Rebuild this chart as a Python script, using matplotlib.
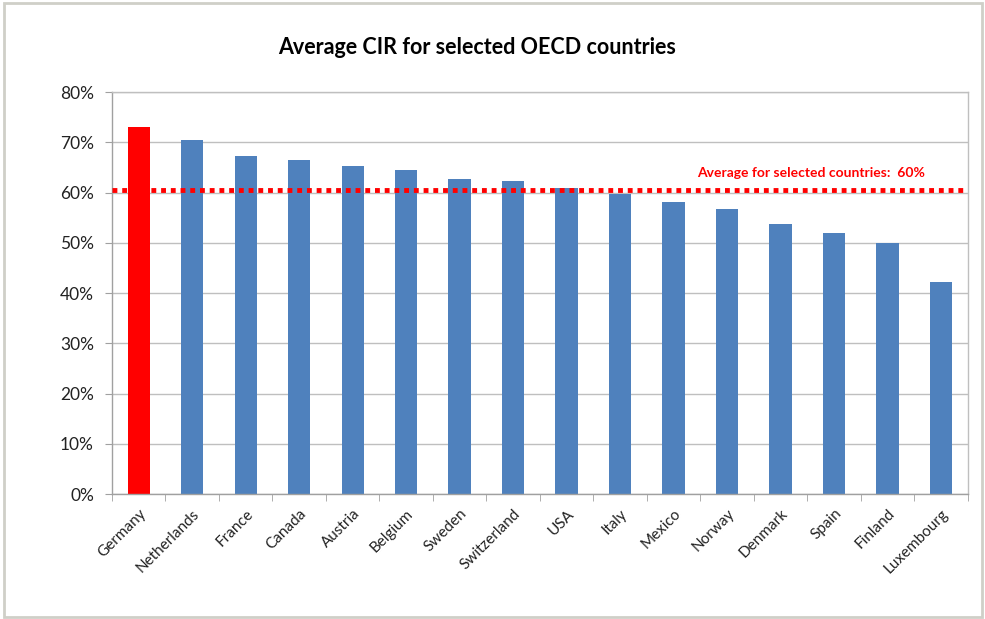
import matplotlib
matplotlib.use('Agg')
import matplotlib.pyplot as plt
from matplotlib.patches import Rectangle
import numpy as np

plt.rcParams['font.family'] = ['Lato', 'DejaVu Sans']

# Average CIR by country (percent)
countries = ['Germany', 'Netherlands', 'France', 'Canada', 'Austria', 'Belgium',
             'Sweden', 'Switzerland', 'USA', 'Italy', 'Mexico', 'Norway',
             'Denmark', 'Spain', 'Finland', 'Luxembourg']
cir = [73.0, 70.5, 67.2, 66.4, 65.2, 64.4, 62.6, 62.3, 60.9, 59.7, 58.2, 56.8,
       53.8, 51.9, 49.9, 42.1]
average = 60.6
avg_label = 'Average for selected countries:  60%'
yticks = [0, 10, 20, 30, 40, 50, 60, 70, 80]

blue = '#4F81BD'
red = '#FF0000'
colors = [red if c == 'Germany' else blue for c in countries]

fig = plt.figure(figsize=(9.85, 6.19), dpi=100)
ax = fig.add_axes([0.1137, 0.2019, 0.8690, 0.6494])

x = np.arange(len(countries))
ax.bar(x, cir, width=0.42, color=colors, zorder=2)

ax.set_xlim(-0.5, len(countries) - 0.5)
ax.set_ylim(0, 80)
ax.set_yticks(yticks)
ax.set_yticklabels([f'{v}%' for v in yticks], fontsize=12.5, color='#222222')
ax.yaxis.grid(True, color='#BFBFBF', linewidth=1, zorder=0)
ax.set_axisbelow(True)

ax.set_xticks(x)
ax.set_xticklabels(countries, rotation=45, ha='right', rotation_mode='anchor',
                   fontsize=11, color='#222222')
ax.tick_params(axis='x', which='major', length=0, pad=9)
ax.set_xticks(np.arange(-0.5, len(countries)), minor=True)
ax.tick_params(axis='x', which='minor', length=5, color='#A0A0A0')
ax.tick_params(axis='y', length=5, color='#A0A0A0', pad=8)

for s in ax.spines.values():
    s.set_color('#A0A0A0')
    s.set_linewidth(1)
ax.spines['top'].set_color('#BFBFBF')
ax.spines['right'].set_color('#BFBFBF')

# average line
ax.plot([-0.5, len(countries) - 0.5], [average, average], color=red,
        linestyle=(0, (1, 1)), linewidth=3.5, zorder=3, solid_capstyle='butt')
ax.text(14.7, average + 3.3, avg_label, color=red, fontsize=10,
        fontweight='bold', ha='right', va='center')

fig.text(0.484, 0.924, 'Average CIR for selected OECD countries',
         fontsize=15.5, fontweight='bold', ha='center', va='center')

# chart border
fig.patches.append(Rectangle((4 / 985, 2 / 619), 978 / 985, 614 / 619,
                             transform=fig.transFigure, fill=False,
                             edgecolor='#CFCFC8', linewidth=2))

fig.savefig('out.png', dpi=100)
